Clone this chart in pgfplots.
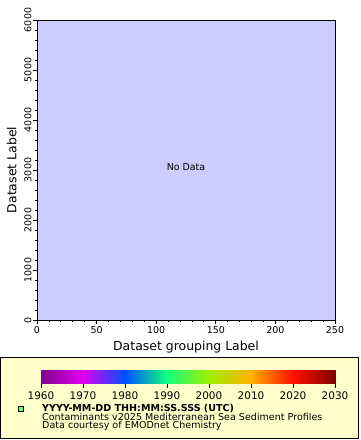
\documentclass[border=0pt]{standalone}
\usepackage{pgfplots}
\pgfplotsset{compat=1.18}
\usepackage{fontspec}
\setmainfont{DejaVu Sans}
\definecolor{plotbg}{RGB}{204,204,255}
\definecolor{legbg}{RGB}{255,255,204}
\definecolor{mark}{RGB}{100,255,100}
\begin{document}
\begin{tikzpicture}[x=1bp,y=1bp]
\path (0,0) rectangle (360,440);
\begin{axis}[
  at={(37bp,120bp)}, anchor=south west,
  width=298bp, height=300bp, scale only axis,
  xmin=0, xmax=250, ymin=0, ymax=6000,
  xtick distance=50, ytick distance=1000,
  minor x tick num=4, minor y tick num=4,
  tick align=outside, xtick pos=bottom, ytick pos=left,
  major tick length=4bp, minor tick length=2.5bp,
  scaled ticks=false,
  /pgf/number format/1000 sep={},
  /pgf/number format/assume math mode=true,
  axis background/.style={fill=plotbg},
  axis line style={line width=0.8bp},
  tick style={line width=0.8bp,black},
  tick label style={font=\fontsize{9.5}{11}\selectfont},
  yticklabel style={rotate=90, anchor=south, yshift=-2bp},
  xticklabel style={yshift=1bp},
  xlabel={Dataset grouping Label},
  ylabel={Dataset Label},
  label style={font=\fontsize{12.5}{14}\selectfont},
  xlabel style={yshift=-1bp},
  ylabel style={yshift=1bp},
]
\node[font=\fontsize{9.5}{11}\selectfont] at (axis cs:125,3050) {No Data};
\end{axis}
\draw[fill=legbg, draw=black, line width=0.8bp] (0.5,2) rectangle (358,83);
\begin{axis}[
  at={(41bp,56bp)}, anchor=south west,
  width=294bp, height=14bp, scale only axis,
  xmin=1960, xmax=2030, ymin=0, ymax=1,
  xtick distance=10, ytick=\empty,
  tick align=outside, xtick pos=bottom,
  major tick length=4bp,
  axis line style={draw=none},
  tick style={line width=0.8bp,black},
  /pgf/number format/1000 sep={},
  /pgf/number format/assume math mode=true,
  tick label style={font=\fontsize{10.5}{12}\selectfont},
  colormap={erd}{rgb255(0)=(128,0,144) rgb255(10)=(224,0,240) rgb255(20)=(0,80,255) rgb255(30)=(16,255,128) rgb255(40)=(160,240,0) rgb255(50)=(255,176,0) rgb255(60)=(255,16,0) rgb255(70)=(128,0,0)},
  point meta min=1960, point meta max=2030,
]
\addplot[surf, shader=interp, point meta=x, mesh/rows=2] coordinates {
(1960,0) (1970,0) (1980,0) (1990,0) (2000,0) (2010,0) (2020,0) (2030,0)

(1960,1) (1970,1) (1980,1) (1990,1) (2000,1) (2010,1) (2020,1) (2030,1)
};
\end{axis}
\draw[fill=mark, draw=black, line width=0.8bp] (18.5,29) rectangle (23.5,34);
\node[anchor=base west, font=\bfseries\fontsize{9.6}{11}\selectfont, inner sep=0] at (42,28) {YYYY-MM-DD THH:MM:SS.SSS (UTC)};
\node[anchor=base west, font=\fontsize{9.6}{11}\selectfont, inner sep=0] at (42,19.5) {Contaminants v2025 Mediterranean Sea Sediment Profiles};
\node[anchor=base west, font=\fontsize{9.6}{11}\selectfont, inner sep=0] at (42,11) {Data courtesy of EMODnet Chemistry};
\end{tikzpicture}
\end{document}
